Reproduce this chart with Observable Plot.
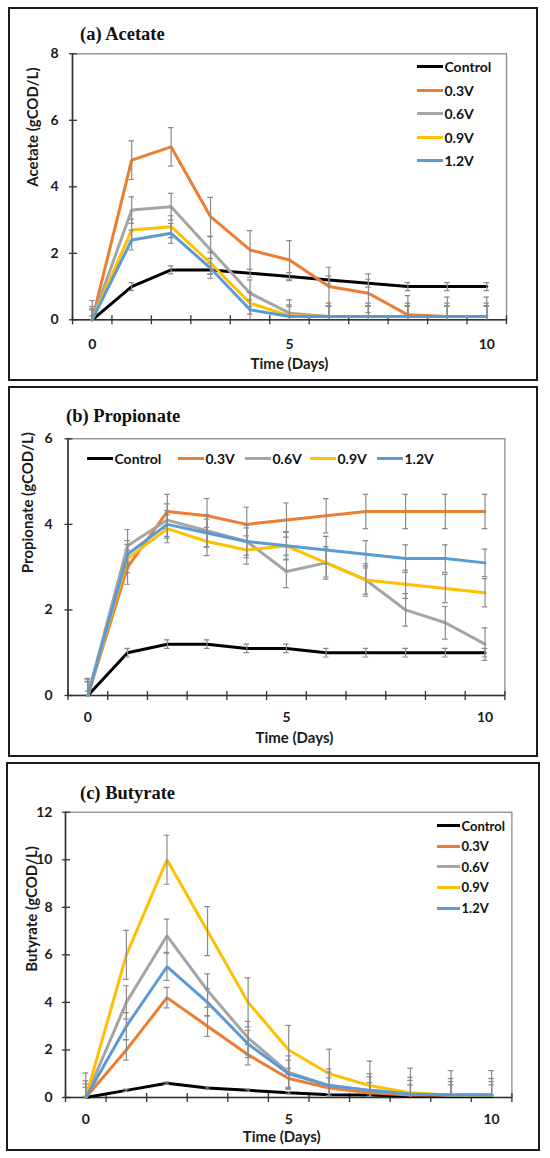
<!DOCTYPE html>
<html>
<head>
<meta charset="utf-8">
<script src="https://cdn.jsdelivr.net/npm/d3@7"></script>
<script src="https://cdn.jsdelivr.net/npm/@observablehq/plot@0.6"></script>
<style>
  body { margin: 0; background: #fff; }
  #page { position: relative; width: 550px; height: 1158px; overflow: hidden; background: #fff; }
  .box { position: absolute; border: 2.5px solid #1a1a1a; box-sizing: border-box; }
  .plot { position: absolute; left: 0; }
  .title { position: absolute; font-family: "Liberation Serif", "Times New Roman", serif; font-weight: bold; font-size: 18.5px; line-height: 18.5px; white-space: nowrap; color: #111; }
  .legend { position: absolute; font-family: Lato, sans-serif; font-weight: bold; color: #111; }
  .item { display: flex; align-items: center; white-space: nowrap; }
  .sw { display: inline-block; height: 3px; margin-right: 1.5px; }
</style>
</head>
<body>
<div id="page"></div>
<script>
// ---------- data ----------
const days = [0, 1, 2, 3, 4, 5, 6, 7, 8, 9, 10];
const seriesNames = ["Control", "0.3V", "0.6V", "0.9V", "1.2V"];
const seriesColors = ["#000000", "#ED7D31", "#A5A5A5", "#FFC000", "#5B9BD5"];

const xTickLabels = [0, 5, 10];
const xTickMarks = [-0.5, 0.5, 1.5, 2.5, 3.5, 4.5, 5.5, 6.5, 7.5, 8.5, 9.5, 10.5];
const xDomain = [-0.5, 10.5];

// (a) Acetate
const acetateControl = [0, 1.0, 1.5, 1.5, 1.4, 1.3, 1.2, 1.1, 1.0, 1.0, 1.0];
const acetate03V = [0, 4.8, 5.2, 3.1, 2.1, 1.8, 1.0, 0.8, 0.15, 0.1, 0.1];
const acetate06V = [0, 3.3, 3.4, 2.1, 0.8, 0.2, 0.1, 0.1, 0.1, 0.1, 0.1];
const acetate09V = [0, 2.7, 2.8, 1.7, 0.5, 0.12, 0.1, 0.1, 0.1, 0.1, 0.1];
const acetate12V = [0, 2.4, 2.6, 1.55, 0.3, 0.1, 0.1, 0.1, 0.1, 0.1, 0.1];
const acetateErrors = [0.12, 0.58, 0.4, 0.33, 0.3];
const acetateYTicks = [0, 2, 4, 6, 8];

// (b) Propionate
const propionateControl = [0, 1.0, 1.2, 1.2, 1.1, 1.1, 1.0, 1.0, 1.0, 1.0, 1.0];
const propionate03V = [0, 3.0, 4.3, 4.2, 4.0, 4.1, 4.2, 4.3, 4.3, 4.3, 4.3];
const propionate06V = [0, 3.5, 4.1, 3.85, 3.6, 2.9, 3.1, 2.7, 2.0, 1.7, 1.2];
const propionate09V = [0, 3.2, 3.9, 3.6, 3.4, 3.5, 3.1, 2.7, 2.6, 2.5, 2.4];
const propionate12V = [0, 3.3, 4.0, 3.8, 3.6, 3.5, 3.4, 3.3, 3.2, 3.2, 3.1];
const propionateErrors = [0.1, 0.4, 0.38, 0.33, 0.32];
const propionateYTicks = [0, 2, 4, 6];

// (c) Butyrate
const butyrateControl = [0, 0.3, 0.6, 0.4, 0.3, 0.2, 0.12, 0.1, 0.05, 0.05, 0.05];
const butyrate03V = [0, 2.0, 4.2, 3.0, 1.8, 0.8, 0.4, 0.2, 0.1, 0.1, 0.1];
const butyrate06V = [0, 4.0, 6.8, 4.5, 2.5, 1.05, 0.5, 0.3, 0.15, 0.1, 0.1];
const butyrate09V = [0, 6.0, 10.0, 7.0, 4.0, 2.0, 1.0, 0.5, 0.2, 0.1, 0.1];
const butyrate12V = [0, 3.0, 5.5, 4.0, 2.25, 1.0, 0.5, 0.3, 0.15, 0.1, 0.1];
const butyrateErrors = [0.05, 0.43, 0.7, 1.03, 0.57];
const butyrateYTicks = [0, 2, 4, 6, 8, 10, 12];

// ---------- layout ----------
const panels = [
  {
    title: "(a) Acetate", yLabel: "Acetate (gCOD/L)",
    values: [acetateControl, acetate03V, acetate06V, acetate09V, acetate12V],
    errors: acetateErrors, yTicks: acetateYTicks, yDomain: [0, 8],
    svgTop: 0, height: 384, mL: 72, mR: 44, mT: 53.3, mB: 64.7,
    box: {left: 8, top: 7, width: 530, height: 374},
    titlePos: {left: 80, top: 25.2},
    xTickPad: 19, yTickGap: 14, yLabelDx: -39, yLabelDy: 0, xLabelDx: 0, xLabelDy: 44,
    legend: {type: "v", left: 417, top: 55, row: 23.5, sw: 26, font: 14}
  },
  {
    title: "(b) Propionate", yLabel: "Propionate (gCOD/L)",
    values: [propionateControl, propionate03V, propionate06V, propionate09V, propionate12V],
    errors: propionateErrors, yTicks: propionateYTicks, yDomain: [0, 6],
    svgTop: 384, height: 376, mL: 67.5, mR: 45.6, mT: 54.3, mB: 65,
    box: {left: 8, top: 386, width: 530, height: 371},
    titlePos: {left: 66, top: 406.8},
    xTickPad: 17, yTickGap: 15.5, yLabelDx: -39.5, yLabelDy: 6, xLabelDx: 8, xLabelDy: 43,
    legend: {type: "h", lefts: [87, 178, 245, 310, 377], top: 448, row: 20, sw: 26, font: 14}
  },
  {
    title: "(c) Butyrate", yLabel: "Butyrate (gCOD/L)",
    values: [butyrateControl, butyrate03V, butyrate06V, butyrate09V, butyrate12V],
    errors: butyrateErrors, yTicks: butyrateYTicks, yDomain: [0, 12],
    svgTop: 760, height: 398, mL: 65, mR: 38.6, mT: 51.7, mB: 61,
    box: {left: 6, top: 762, width: 534, height: 389},
    titlePos: {left: 80, top: 783.5},
    xTickPad: 17, yTickGap: 13, yLabelDx: -33.4, yLabelDy: 17, xLabelDx: -7, xLabelDy: 40,
    legend: {type: "v", left: 437, top: 815.4, row: 20.6, sw: 23, font: 13}
  }
];

const page = document.getElementById("page");
const capHalf = 0.07;

panels.forEach(cfg => {
  const box = document.createElement("div");
  box.className = "box";
  Object.assign(box.style, {left: cfg.box.left + "px", top: cfg.box.top + "px", width: cfg.box.width + "px", height: cfg.box.height + "px"});
  page.appendChild(box);

  const rows = [];
  seriesNames.forEach((s, i) => days.forEach((d, j) => rows.push({day: d, value: cfg.values[i][j], err: cfg.errors[i], series: s})));

  const marks = [
    Plot.frame({stroke: "#8c8c8c", strokeWidth: 1.3}),
    Plot.ruleY([cfg.yDomain[0]], {stroke: "#333", strokeWidth: 1.6}),
    Plot.ruleX([xDomain[0]], {stroke: "#333", strokeWidth: 1.6}),
    Plot.axisX({ticks: xTickMarks, tickSize: 9, dy: -4, tickFormat: () => "", stroke: "#333", strokeWidth: 1.3, label: null}),
    Plot.axisX({ticks: xTickLabels, tickSize: 0, tickPadding: cfg.xTickPad, tickFormat: d => String(d), fontSize: 14, fill: "#1a1a1a", label: null}),
    Plot.axisY({ticks: cfg.yTicks, tickSize: 8, dx: 5, tickFormat: () => "", stroke: "#333", strokeWidth: 1.3, label: null}),
    Plot.axisY({ticks: cfg.yTicks, tickSize: 0, tickPadding: cfg.yTickGap, tickFormat: d => String(d), fontSize: 14, fill: "#1a1a1a", label: null}),
    Plot.text([cfg.yLabel], {text: d => d, frameAnchor: "left", rotate: -90, dx: cfg.yLabelDx, dy: cfg.yLabelDy, lineAnchor: "middle", fontSize: 15, fontWeight: "bold", fill: "#1a1a1a"}),
    Plot.text(["Time (Days)"], {text: d => d, frameAnchor: "bottom", lineAnchor: "middle", dx: cfg.xLabelDx, dy: cfg.xLabelDy, fontSize: 15, fontWeight: "bold", fill: "#1a1a1a"})
  ];

  seriesNames.forEach(s => {
    const sr = rows.filter(r => r.series === s);
    marks.push(Plot.line(sr, {x: "day", y: "value", stroke: "series", strokeWidth: 3, strokeLinejoin: "miter"}));
    marks.push(Plot.ruleX(sr, {x: "day", y1: d => d.value - d.err, y2: d => d.value + d.err, stroke: "#8a8a8a", strokeWidth: 1.2, clip: true}));
    marks.push(Plot.ruleY(sr, {y: d => d.value + d.err, x1: d => d.day - capHalf, x2: d => d.day + capHalf, stroke: "#8a8a8a", strokeWidth: 1.2, clip: true}));
    marks.push(Plot.ruleY(sr, {y: d => d.value - d.err, x1: d => d.day - capHalf, x2: d => d.day + capHalf, stroke: "#8a8a8a", strokeWidth: 1.2, clip: true}));
  });

  const svg = Plot.plot({
    width: 550, height: cfg.height,
    marginLeft: cfg.mL, marginRight: cfg.mR, marginTop: cfg.mT, marginBottom: cfg.mB,
    x: {domain: xDomain},
    y: {domain: cfg.yDomain},
    color: {domain: seriesNames, range: seriesColors},
    style: {fontFamily: "Lato, sans-serif", fontWeight: "bold", background: "transparent", overflow: "visible"},
    marks
  });
  svg.classList.add("plot");
  svg.style.top = cfg.svgTop + "px";
  page.appendChild(svg);

  const t = document.createElement("div");
  t.className = "title";
  t.textContent = cfg.title;
  t.style.left = cfg.titlePos.left + "px";
  t.style.top = cfg.titlePos.top + "px";
  page.appendChild(t);

  const L = cfg.legend;
  seriesNames.forEach((s, i) => {
    const item = document.createElement("div");
    item.className = "legend item";
    item.style.fontSize = L.font + "px";
    item.style.height = L.row + "px";
    if (L.type === "v") {
      item.style.left = L.left + "px";
      item.style.top = (L.top + i * L.row) + "px";
    } else {
      item.style.left = L.lefts[i] + "px";
      item.style.top = L.top + "px";
    }
    const sw = document.createElement("span");
    sw.className = "sw";
    sw.style.width = L.sw + "px";
    sw.style.background = seriesColors[i];
    const tx = document.createElement("span");
    tx.textContent = s;
    item.appendChild(sw);
    item.appendChild(tx);
    page.appendChild(item);
  });
});
</script>
</body>
</html>
